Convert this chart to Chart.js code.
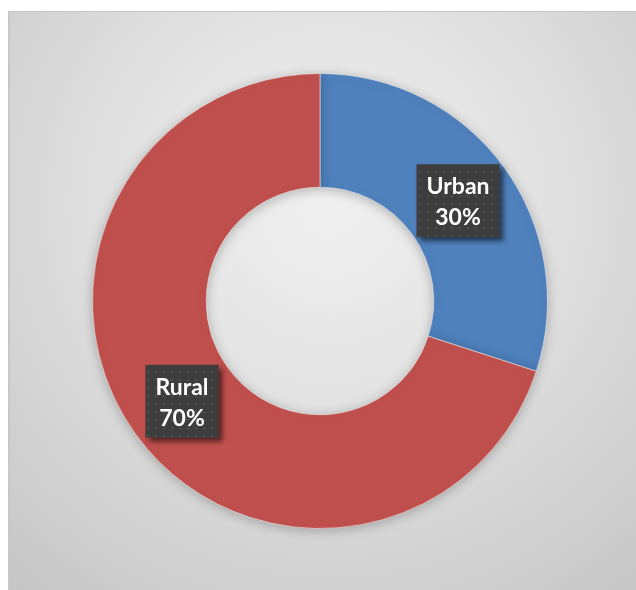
<!DOCTYPE html>
<html>
<head>
<meta charset="utf-8">
<script src="https://cdn.jsdelivr.net/npm/chart.js@4.4.1/dist/chart.umd.min.js"></script>
<style>
  html, body { margin: 0; padding: 0; background: #ffffff; }
  #frame {
    position: absolute; left: 8px; top: 11px; width: 640px; height: 600px;
    border-top: 1px solid #c4c4c4; border-left: 2px solid #c8c8c8;
    background: radial-gradient(circle farthest-corner at 50% 32%, #f0f0f0 0%, #e4e4e4 35%, #c4c4c4 100%);
  }
  #wrap { position: absolute; left: 0; top: 0; width: 636px; height: 590px; }
</style>
</head>
<body>
<div id="frame"></div>
<div id="wrap"><canvas id="chart" width="636" height="590"></canvas></div>
<script>
// Values
const categories = ['Urban', 'Rural'];
const shares = [30, 70];
const sliceColors = ['#4F81BD', '#C0504D'];

// Dark dotted fill used behind the data labels
function makeLabelPattern(ctx) {
    const p = document.createElement('canvas');
    p.width = 8; p.height = 8;
    const pc = p.getContext('2d');
    pc.fillStyle = '#3d3d3d';
    pc.fillRect(0, 0, 8, 8);
    pc.fillStyle = '#4a4a4a';
    pc.beginPath();
    pc.arc(4, 4, 1.6, 0, Math.PI * 2);
    pc.fill();
    return ctx.createPattern(p, 'repeat');
}

const sliceShadow = {
    id: 'sliceShadow',
    beforeDatasetsDraw(chart) {
        const ctx = chart.ctx;
        ctx.save();
        ctx.shadowColor = 'rgba(0,0,0,0.25)';
        ctx.shadowBlur = 12;
        ctx.shadowOffsetY = 2;
    },
    afterDatasetsDraw(chart) {
        chart.ctx.restore();
    }
};

const boxLabels = {
    id: 'boxLabels',
    afterDraw(chart) {
        const ctx = chart.ctx;
        const meta = chart.getDatasetMeta(0);
        const pattern = makeLabelPattern(ctx);
        ctx.save();
        ctx.font = 'bold 23px Lato, "Open Sans", sans-serif';
        meta.data.forEach((arc, i) => {
            const pos = arc.tooltipPosition();
            const line1 = categories[i];
            const line2 = shares[i] + '%';
            const w = Math.max(ctx.measureText(line1).width, ctx.measureText(line2).width) + 20;
            const h = 73;
            const x = pos.x - w / 2;
            const y = pos.y - h / 2;
            ctx.save();
            ctx.shadowColor = 'rgba(0,0,0,0.55)';
            ctx.shadowBlur = 5;
            ctx.shadowOffsetX = 4;
            ctx.shadowOffsetY = 4;
            ctx.fillStyle = pattern;
            ctx.fillRect(x, y, w, h);
            ctx.restore();
            ctx.fillStyle = '#ffffff';
            ctx.textAlign = 'center';
            ctx.textBaseline = 'middle';
            ctx.fillText(line1, pos.x, pos.y - 14);
            ctx.fillText(line2, pos.x, pos.y + 17);
        });
        ctx.restore();
    }
};

new Chart(document.getElementById('chart').getContext('2d'), {
    type: 'doughnut',
    data: {
        labels: categories,
        datasets: [{
            data: shares,
            backgroundColor: sliceColors,
            borderColor: 'rgba(235,235,235,0.6)',
            borderWidth: 1,
        }],
    },
    options: {
        responsive: false,
        animation: false,
        cutout: '50%',
        layout: { padding: { left: 92, right: 88, top: 73, bottom: 61 } },
        plugins: {
            legend: { display: false },
            tooltip: { enabled: false },
        },
    },
    plugins: [sliceShadow, boxLabels],
});
</script>
</body>
</html>
